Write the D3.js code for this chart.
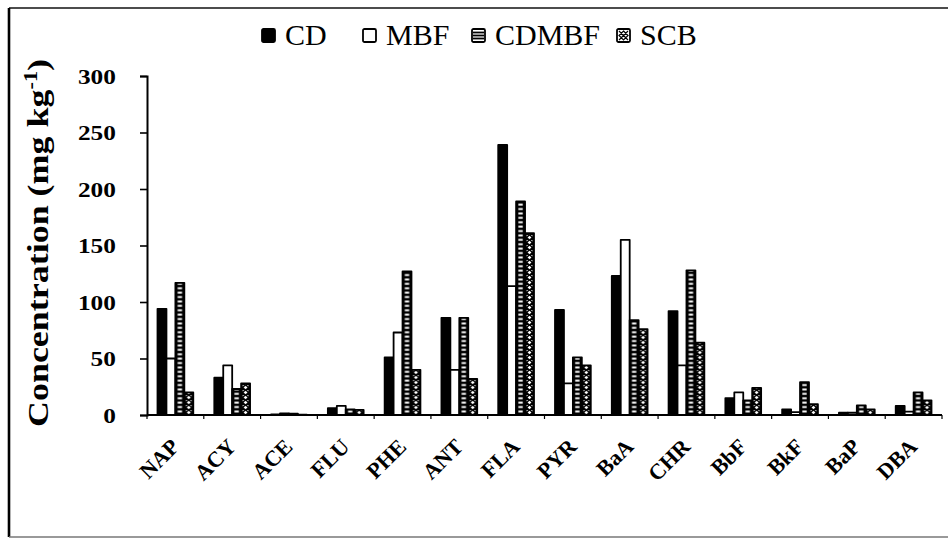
<!DOCTYPE html>
<html>
<head>
<meta charset="utf-8">
<script src="https://cdn.jsdelivr.net/npm/d3@7"></script>
<style>
  html, body { margin: 0; padding: 0; background: #fff; }
  svg { display: block; }
  svg text { font-family: "Liberation Serif", serif; }
</style>
</head>
<body>
<svg id="chart" width="948" height="539"></svg>
<script>
// PAH concentrations by treatment (mg kg-1)
const categories = ["NAP", "ACY", "ACE", "FLU", "PHE", "ANT", "FLA", "PYR", "BaA", "CHR", "BbF", "BkF", "BaP", "DBA"];
const seriesNames = ["CD", "MBF", "CDMBF", "SCB"];
const cdValues    = [94, 33, 0.5, 6, 51, 86, 239, 93, 123, 92, 15, 5, 2, 8];
const mbfValues   = [50, 44, 1.5, 8, 73, 40, 114, 28, 155, 44, 20, 2.5, 2, 3];
const cdmbfValues = [117, 23, 1.2, 5, 127, 86, 189, 51, 84, 128, 13, 29, 8.5, 20];
const scbValues   = [20, 28, 0.3, 4.5, 40, 32, 161, 44, 76, 64, 24, 9.5, 5, 13];
const yTickValues = [0, 50, 100, 150, 200, 250, 300];
const yLabel = "Concentration (mg kg";

const FONT = "Liberation Serif";

const seriesValues = [cdValues, mbfValues, cdmbfValues, scbValues];
const rows = categories.map((c, i) => ({
  cat: c,
  vals: seriesNames.map((s, j) => ({ key: s, value: seriesValues[j][i] }))
}));

const svg = d3.select("#chart");
const plot = { left: 147, right: 942, top: 76, bottom: 415 };

const x = d3.scaleBand().domain(categories)
  .range([plot.left, plot.right]).paddingInner(0.37).paddingOuter(0.185);
const x1 = d3.scaleBand().domain(seriesNames).range([0, x.bandwidth()]);
const y = d3.scaleLinear().domain([0, 300]).range([plot.bottom, plot.top]);

// outer frame
const frame = svg.append("g").attr("fill", "none");
frame.append("line").attr("x1", 9).attr("y1", 8).attr("x2", 948).attr("y2", 8)
  .attr("stroke", "#111").attr("stroke-width", 1.6);
frame.append("line").attr("x1", 9).attr("y1", 8).attr("x2", 9).attr("y2", 537)
  .attr("stroke", "#000").attr("stroke-width", 2.6);
frame.append("line").attr("x1", 9).attr("y1", 537).attr("x2", 948).attr("y2", 537)
  .attr("stroke", "#777").attr("stroke-width", 1.4);

// fill patterns (in each bar group's local coordinates)
const defs = svg.append("defs");
const bw = x1.bandwidth();

const ladder = defs.append("pattern").attr("id", "pat-cdmbf")
  .attr("patternUnits", "userSpaceOnUse")
  .attr("x", x1("CDMBF")).attr("y", 0)
  .attr("width", bw).attr("height", 4.4);
ladder.append("rect").attr("width", bw).attr("height", 4.4).attr("fill", "#000");
ladder.append("rect").attr("x", 2.3).attr("y", 1.3).attr("width", bw - 4.6).attr("height", 1.9).attr("fill", "#fff");

const cross = defs.append("pattern").attr("id", "pat-scb")
  .attr("patternUnits", "userSpaceOnUse")
  .attr("x", x1("SCB")).attr("y", 0)
  .attr("width", bw).attr("height", 5);
cross.append("rect").attr("width", bw).attr("height", 5).attr("fill", "#000");
cross.append("path")
  .attr("d", `M${bw / 2},0.7 L${bw / 2 + 1.9},2.5 L${bw / 2},4.3 L${bw / 2 - 1.9},2.5 Z`)
  .attr("fill", "#fff");
cross.append("path")
  .attr("d", `M1.6,0 L${bw / 2 - 1.4},0 L1.6,1.5 Z M${bw - 1.6},0 L${bw / 2 + 1.4},0 L${bw - 1.6},1.5 Z`)
  .attr("fill", "#fff");

const fills = { CD: "#000", MBF: "#fff", CDMBF: "url(#pat-cdmbf)", SCB: "url(#pat-scb)" };

// bars
const groups = svg.append("g").selectAll("g").data(rows).join("g")
  .attr("transform", d => `translate(${x(d.cat)},0)`);
groups.selectAll("rect").data(d => d.vals).join("rect")
  .attr("x", d => x1(d.key))
  .attr("y", d => y(d.value))
  .attr("width", bw)
  .attr("height", d => y(0) - y(d.value))
  .attr("fill", d => fills[d.key])
  .attr("stroke", "#000")
  .attr("stroke-width", 1.8)
  .attr("stroke-linejoin", "round");

// y axis
const yAxis = svg.append("g").attr("transform", `translate(${plot.left},0)`)
  .call(d3.axisLeft(y).tickValues(yTickValues).tickSize(7).tickPadding(17));
yAxis.select(".domain").attr("stroke", "#000").attr("stroke-width", 2);
yAxis.selectAll(".tick line").attr("stroke", "#000").attr("stroke-width", 1.6);
yAxis.selectAll(".tick text")
  .attr("font-family", FONT)
  .attr("font-size", 22).attr("font-weight", "bold").attr("fill", "#000")
  .attr("dy", "0.34em")
  .attr("transform", function () {
    const xx = +d3.select(this).attr("x");
    return `translate(${xx * 0.15},0) scale(1.15,1)`;
  });

// x axis
const step = x.step();
const boundaries = d3.range(categories.length + 1).map(i => plot.left + i * step);
const xAxis = svg.append("g");
xAxis.append("line").attr("x1", plot.left).attr("x2", plot.right)
  .attr("y1", y(0)).attr("y2", y(0)).attr("stroke", "#000").attr("stroke-width", 2.2);
xAxis.selectAll("line.tk").data(boundaries).join("line").attr("class", "tk")
  .attr("x1", d => d).attr("x2", d => d)
  .attr("y1", y(0)).attr("y2", y(0) + 4).attr("stroke", "#000").attr("stroke-width", 1.2);
xAxis.selectAll("text").data(categories).join("text")
  .attr("transform", d => `translate(${x(d) + x.bandwidth() / 2 + 5},${y(0) + 33}) rotate(-45)`)
  .attr("text-anchor", "end")
  .attr("font-family", FONT)
  .attr("font-size", 22).attr("font-weight", "bold")
  .text(d => d);

// y title
const title = svg.append("text")
  .attr("transform", `translate(48,243) rotate(-90) scale(1.24,1)`)
  .attr("text-anchor", "middle")
  .attr("font-family", FONT)
  .attr("font-size", 29).attr("font-weight", "bold");
title.append("tspan").text(yLabel);
title.append("tspan").attr("font-size", 18).attr("dy", -11).text("-1");
title.append("tspan").attr("dy", 11).text(")");

// legend
const legendX = { CD: 262, MBF: 363, CDMBF: 472, SCB: 617 };
const legend = svg.append("g").style("font-family", FONT);
const item = legend.selectAll("g").data(seriesNames).join("g")
  .attr("transform", d => `translate(${legendX[d]},29)`);
item.append("rect").attr("width", 13).attr("height", 13).attr("rx", 1.5)
  .attr("fill", d => d === "CD" ? "#000" : "#fff")
  .attr("stroke", "#000").attr("stroke-width", 1.8);
item.filter(d => d === "CDMBF").selectAll("line").data([3.5, 6.5, 9.5]).join("line")
  .attr("x1", 1).attr("x2", 12).attr("y1", v => v).attr("y2", v => v)
  .attr("stroke", "#000").attr("stroke-width", 1.8);
item.filter(d => d === "SCB").append("path")
  .attr("d", "M2,2 L11,11 M11,2 L2,11 M6.5,2 L11,6.5 L6.5,11 L2,6.5 Z")
  .attr("stroke", "#000").attr("stroke-width", 1.2).attr("fill", "none");
item.append("text")
  .attr("x", 23).attr("y", 16)
  .attr("font-family", FONT)
  .style("font-family", FONT)
  .attr("font-size", 30)
  .text(d => d);
</script>
</body>
</html>
